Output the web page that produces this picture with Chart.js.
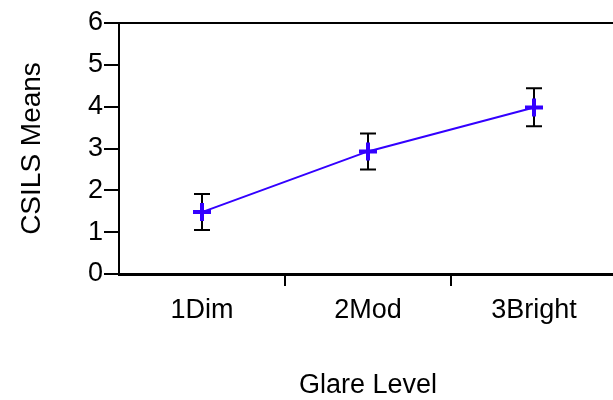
<!DOCTYPE html>
<html>
<head>
<meta charset="utf-8">
<script src="https://cdn.jsdelivr.net/npm/chart.js@4"></script>
<style>
  html, body { margin: 0; padding: 0; background: #fff; }
  #wrap { width: 613px; height: 400px; overflow: hidden; position: relative; }
  canvas { display: block; }
</style>
</head>
<body>
<div id="wrap"><canvas id="chart" width="630" height="400"></canvas></div>
<script>
// glare levels and CSILS means with error bar ends
const levels = ["1Dim", "2Mod", "3Bright"];
const means = [1.48, 2.93, 3.98];
const errLow = [1.05, 2.50, 3.53];
const errHigh = [1.91, 3.36, 4.44];
const yTicks = [0, 1, 2, 3, 4, 5, 6];

const FONT = "'Liberation Sans', Arial, sans-serif";
const BLUE = "#3300ff";

// black error bars under the markers
const errorBars = {
  id: "errorBars",
  beforeDatasetsDraw(chart) {
    const ctx = chart.ctx;
    const x = chart.scales.x, y = chart.scales.y;
    ctx.save();
    ctx.strokeStyle = "#000";
    ctx.lineWidth = 2;
    levels.forEach((lvl, i) => {
      const px = x.getPixelForValue(i);
      const top = y.getPixelForValue(errHigh[i]);
      const bot = y.getPixelForValue(errLow[i]);
      ctx.beginPath();
      ctx.moveTo(px, top); ctx.lineTo(px, bot);
      ctx.moveTo(px - 8, top); ctx.lineTo(px + 8, top);
      ctx.moveTo(px - 8, bot); ctx.lineTo(px + 8, bot);
      ctx.stroke();
    });
    ctx.restore();
  }
};

new Chart(document.getElementById("chart"), {
  type: "line",
  data: {
    labels: levels,
    datasets: [{
      data: means,
      borderColor: BLUE,
      borderWidth: 2,
      pointStyle: "cross",
      pointRadius: 9,
      pointBorderWidth: 4,
      pointBorderColor: BLUE,
      tension: 0
    }]
  },
  options: {
    responsive: false,
    animation: false,
    layout: { padding: { top: 23, right: 6, left: 0, bottom: 0 } },
    plugins: { legend: { display: false }, tooltip: { enabled: false } },
    scales: {
      x: {
        offset: true,
        grid: {
          offset: true,
          drawOnChartArea: false,
          tickLength: 12,
          lineWidth: 2,
          color: (c) => c.index === 0 ? "rgba(0,0,0,0)" : "#000"
        },
        border: { color: "#000", width: 3 },
        ticks: { color: "#000", padding: 8, font: { family: FONT, size: 27 } },
        title: {
          display: true,
          text: "Glare Level",
          color: "#000",
          font: { family: FONT, size: 27, lineHeight: 1 },
          padding: { top: 0, bottom: 1 }
        },
        afterFit(scale) { scale.height = 126; }
      },
      y: {
        min: 0,
        max: 6,
        afterBuildTicks(scale) { scale.ticks = yTicks.map(v => ({ value: v })); },
        grid: {
          tickLength: 15,
          lineWidth: 2,
          color: (c) => c.tick && c.tick.value === 6 ? "#000" : "rgba(0,0,0,0)",
          tickColor: "#000"
        },
        border: { color: "#000", width: 2 },
        ticks: { color: "#000", padding: 1, font: { family: FONT, size: 27 } },
        title: {
          display: true,
          text: "CSILS Means",
          color: "#000",
          font: { family: FONT, size: 28, lineHeight: 1 },
          padding: { top: 18, bottom: 0 }
        },
        afterFit(scale) { scale.width = 119; }
      }
    }
  },
  plugins: [errorBars]
});
</script>
</body>
</html>
